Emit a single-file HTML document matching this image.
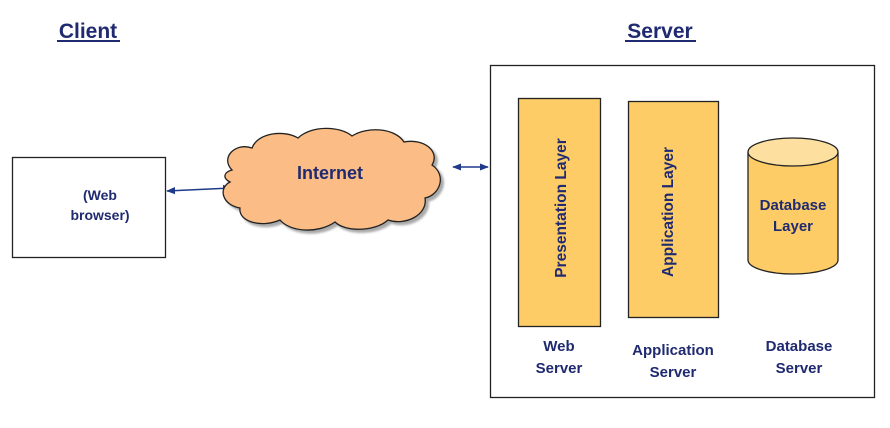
<!DOCTYPE html>
<html><head><style>
body{margin:0;background:#fff;}
svg text{font-family:"Liberation Sans",Arial,sans-serif;font-weight:bold;fill:#1f2a70;}
</style></head><body>
<svg width="890" height="423" viewBox="0 0 890 423" xmlns="http://www.w3.org/2000/svg">
<defs>
<marker id="a" viewBox="0 0 10 10" refX="9" refY="5" markerWidth="6" markerHeight="6" orient="auto-start-reverse"><path d="M0,1 L10,5 L0,9 z" fill="#1f3a8a"/></marker>
</defs>
<text x="88" y="38" font-size="21" text-anchor="middle">Client</text>
<line x1="57" y1="41" x2="120" y2="41" stroke="#1f2a70" stroke-width="2"/>
<text x="660" y="38" font-size="21" text-anchor="middle">Server</text>
<line x1="625" y1="41" x2="696" y2="41" stroke="#1f2a70" stroke-width="2"/>
<rect x="12.5" y="157.5" width="153" height="100" fill="#fff" stroke="#222" stroke-width="1.3"/>
<text x="100" y="200" font-size="14" text-anchor="middle">(Web</text>
<text x="100" y="220" font-size="14" text-anchor="middle">browser)</text>
<line x1="167" y1="191" x2="231" y2="188" stroke="#1f3a8a" stroke-width="1.5" marker-start="url(#a)" marker-end="url(#a)"/>
<line x1="453" y1="167" x2="488" y2="167" stroke="#1f3a8a" stroke-width="1.5" marker-start="url(#a)" marker-end="url(#a)"/>
<path d="M232,170 C220,158 235,142 252,148 C258,132 285,130 298,138 C312,125 340,126 352,136 C368,126 395,128 404,142 C425,138 440,152 432,165 C447,175 440,195 425,198 C428,215 405,226 388,220 C375,232 345,232 335,222 C318,234 290,232 280,220 C262,228 238,222 240,208 C222,205 218,188 230,182 C222,178 224,172 232,170 Z" fill="#fbbd85" stroke="#222" stroke-width="1.3" filter="drop-shadow(3px 3px 1px #aaa)"/>
<text x="330" y="179" font-size="18" text-anchor="middle">Internet</text>
<rect x="490.5" y="65.5" width="384" height="332" fill="#fff" stroke="#222" stroke-width="1.3"/>
<rect x="518.5" y="98.5" width="82" height="228" fill="#fdcc66" stroke="#222" stroke-width="1.3"/>
<text transform="translate(566,208) rotate(-90)" font-size="15.5" text-anchor="middle">Presentation Layer</text>
<rect x="628.5" y="101.5" width="90" height="216" fill="#fdcc66" stroke="#222" stroke-width="1.3"/>
<text transform="translate(673,212) rotate(-90)" font-size="15.5" text-anchor="middle">Application  Layer</text>
<path d="M748,152 L748,260 A45,14 0 0 0 838,260 L838,152" fill="#fdcc66" stroke="#222" stroke-width="1.3"/>
<ellipse cx="793" cy="152" rx="45" ry="14" fill="#fde0a0" stroke="#222" stroke-width="1.3"/>
<text x="793" y="210" font-size="15" text-anchor="middle">Database</text>
<text x="793" y="231" font-size="15" text-anchor="middle">Layer</text>
<text x="559" y="351" font-size="15" text-anchor="middle">Web</text>
<text x="559" y="373" font-size="15" text-anchor="middle">Server</text>
<text x="673" y="355" font-size="15" text-anchor="middle">Application</text>
<text x="673" y="377" font-size="15" text-anchor="middle">Server</text>
<text x="799" y="351" font-size="15" text-anchor="middle">Database</text>
<text x="799" y="373" font-size="15" text-anchor="middle">Server</text>
</svg>
</body></html>
